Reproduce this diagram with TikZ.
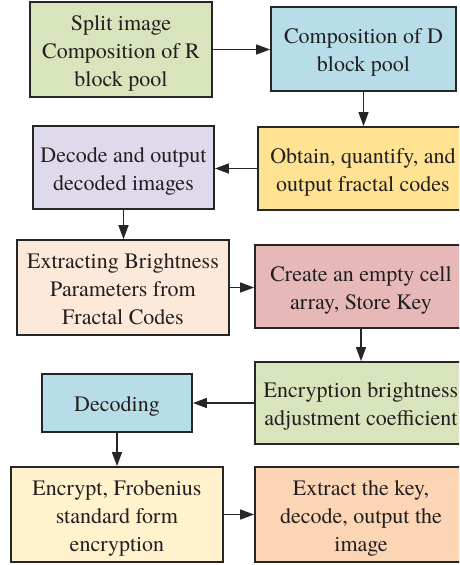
\documentclass[tikz,border=0pt]{standalone}
\usepackage{fontspec}
\setmainfont{TeX Gyre Termes}
\usetikzlibrary{arrows.meta}
\definecolor{cgreen}{HTML}{D8E4BC}
\definecolor{cblue}{HTML}{B7DEE8}
\definecolor{clav}{HTML}{DFDAEB}
\definecolor{cyel}{HTML}{FFE393}
\definecolor{cpeach}{HTML}{FDE9D9}
\definecolor{cpink}{HTML}{E6B8B7}
\definecolor{ccream}{HTML}{FFF2CC}
\definecolor{corange}{HTML}{FCD5B4}
\definecolor{cline}{HTML}{262626}
\definecolor{ctext}{HTML}{231F20}
\newcommand{\mytop}{\rule{0pt}{22pt}}
\newcommand{\mybot}{\rule[-5pt]{0pt}{5pt}}
\tikzset{
  box/.style={draw=cline, line width=1.8pt, inner sep=0pt, align=center,
    text=ctext, font=\rmfamily\fontsize{22}{28}\selectfont},
  conn/.style={draw=cline, line width=1.5pt, -{Triangle[length=14pt,width=10pt]}}
}
\begin{document}
\begin{tikzpicture}[x=1pt,y=-1pt]
\useasboundingbox (0,0) rectangle (459,565);
\clip (0,0) rectangle (459,565);
\node[box, fill=cgreen, minimum width=182pt, minimum height=95pt] (b1) at (121,49.5)
  {\mytop Split image\\Composition of R\\block pool\mybot};
\node[box, fill=cblue, minimum width=185pt, minimum height=84pt] (b2) at (363.5,49)
  {\mytop Composition of D\\block pool\mybot};
\node[box, fill=clav, minimum width=181pt, minimum height=83pt] (b3) at (123.5,167.5)
  {\mytop Decode and output\\decoded images\mybot};
\node[box, fill=cyel, minimum width=210pt, minimum height=83pt] (b4) at (363,168.5)
  {\mytop Obtain, quantify, and\\output fractal codes\mybot};
\node[box, fill=cpeach, minimum width=212pt, minimum height=95pt] (b5) at (123,287.5)
  {\mytop Extracting Brightness\\Parameters from\\Fractal Codes\mybot};
\node[box, fill=cpink, minimum width=212pt, minimum height=83pt] (b6) at (361,286.5)
  {\mytop Create an empty cell\\array, Store Key\mybot};
\node[box, fill=cgreen, minimum width=212pt, minimum height=82pt] (b7) at (361,403)
  {\mytop Encryption brightness\\adjustment coefficient\mybot};
\node[box, fill=cblue, minimum width=150pt, minimum height=58pt] (b8) at (117,403)
  {\mytop Decoding\mybot};
\node[box, fill=ccream, minimum width=212pt, minimum height=95pt] (b9) at (117,514.5)
  {\mytop Encrypt, Frobenius\\standard form\\encryption\mybot};
\node[box, fill=corange, minimum width=212pt, minimum height=95pt] (b10) at (361,514.5)
  {\mytop Extract the key,\\decode, output the\\image\mybot};
\draw[conn] (b1.east) -- (b1.east -| b2.west);
\draw[conn] (b2.south) -- (b2.south |- b4.north);
\draw[conn] (b4.west) -- (b4.west -| b3.east);
\draw[conn] (b3.south) -- (b3.south |- b5.north);
\draw[conn] (b5.east) -- (b5.east -| b6.west);
\draw[conn] (b6.south) -- (b6.south |- b7.north);
\draw[conn] (b7.west) -- (b7.west -| b8.east);
\draw[conn] (b8.south) -- (b8.south |- b9.north);
\draw[conn] (b9.east) -- (b9.east -| b10.west);
\end{tikzpicture}
\end{document}
